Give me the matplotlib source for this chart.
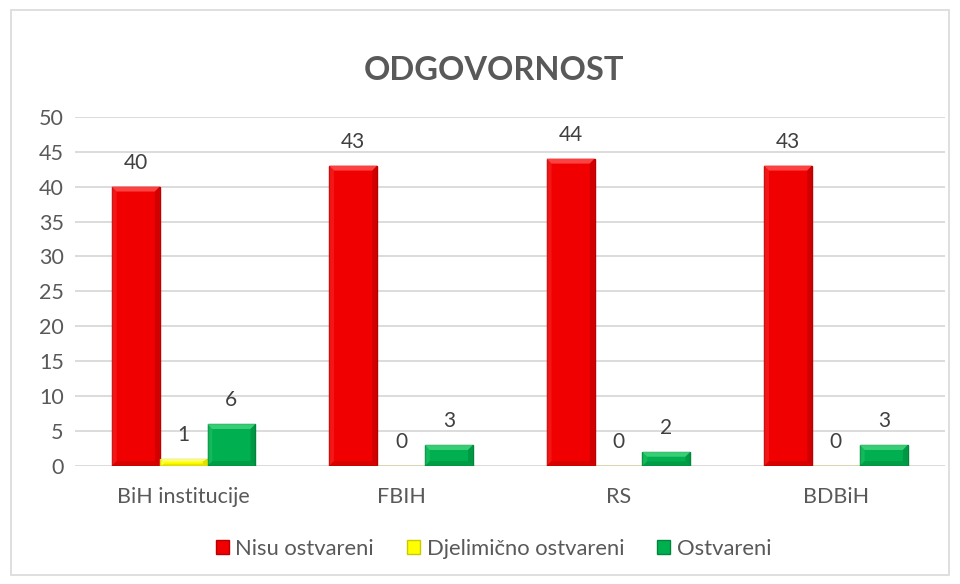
import matplotlib.pyplot as plt
import numpy as np
from matplotlib.patches import Rectangle, Polygon

categories = ["BiH institucije", "FBIH", "RS", "BDBiH"]
series_names = ["Nisu ostvareni", "Djelimično ostvareni", "Ostvareni"]
nisu = [40, 43, 44, 43]
djelimicno = [1, 0, 0, 0]
ostvareni = [6, 3, 2, 3]

faces = ["#f00000", "#ffff00", "#00b050"]
lights = ["#ff4a4a", "#ffff90", "#3fd27a"]
darks = ["#b80000", "#c9c900", "#00853b"]

plt.rcParams["font.family"] = ["Lato", "DejaVu Sans"]

fig = plt.figure(figsize=(9.6, 5.84), dpi=100)
fig.patches.append(Rectangle((0.011, 0.015), 0.978, 0.968, transform=fig.transFigure,
                             fill=False, edgecolor="#d9d9d9", linewidth=1.2))
ax = fig.add_axes([0.078, 0.202, 0.906, 0.598])

def bevel(ax, rect, light, dark):
    # small bevel on the bar edges, in data units
    x0, y0 = rect.get_x(), rect.get_y()
    w, h = rect.get_width(), rect.get_height()
    if h <= 0:
        return
    bx = 0.022
    by = min(0.7, h / 3)
    x1, y1 = x0 + w, y0 + h
    top = [(x0, y1), (x1, y1), (x1 - bx, y1 - by), (x0 + bx, y1 - by)]
    left = [(x0, y0), (x0, y1), (x0 + bx, y1 - by), (x0 + bx, y0 + by)]
    right = [(x1, y0), (x1, y1), (x1 - bx, y1 - by), (x1 - bx, y0 + by)]
    bottom = [(x0, y0), (x1, y0), (x1 - bx, y0 + by), (x0 + bx, y0 + by)]
    for pts, c, a in [(top, light, 0.9), (left, light, 0.3), (right, dark, 0.55), (bottom, dark, 0.45)]:
        ax.add_patch(Polygon(pts, closed=True, facecolor=c, edgecolor="none", alpha=a, zorder=4))

x = np.arange(len(categories))
w = 0.22
for i, vals in enumerate([nisu, djelimicno, ostvareni]):
    pos = x + (i - 1) * w
    bars = ax.bar(pos, vals, width=w, color=faces[i], edgecolor=darks[i], linewidth=1.0,
                  label=series_names[i], zorder=3)
    for r in bars:
        bevel(ax, r, lights[i], darks[i])
    for p, v in zip(pos, vals):
        ax.text(p, v + 3.4, str(v), ha="center", va="center", fontsize=15, color="#404040")

ax.set_xlim(-0.5, len(categories) - 0.5)
ax.set_ylim(0, 50)
ax.set_yticks(range(0, 51, 5))
ax.set_xticks(x)
ax.set_xticklabels(categories)
ax.tick_params(axis="both", length=0, labelsize=15.5, colors="#595959")
ax.tick_params(axis="y", pad=8)
ax.tick_params(axis="x", pad=15)
ax.grid(axis="y", color="#d9d9d9", linewidth=1.3, zorder=0)
for s in ax.spines.values():
    s.set_visible(False)

fig.text(0.515, 0.88, "ODGOVORNOST", ha="center", va="center", fontsize=23.5,
         fontweight="bold", color="#595959")

fig.legend(*ax.get_legend_handles_labels(), loc="center", bbox_to_anchor=(0.514, 0.06),
           ncol=3, frameon=False, fontsize=15.8, labelcolor="#595959", handlelength=0.6,
           handleheight=0.6, handletextpad=0.3, columnspacing=1.5)

fig.savefig("out.png", dpi=100)
